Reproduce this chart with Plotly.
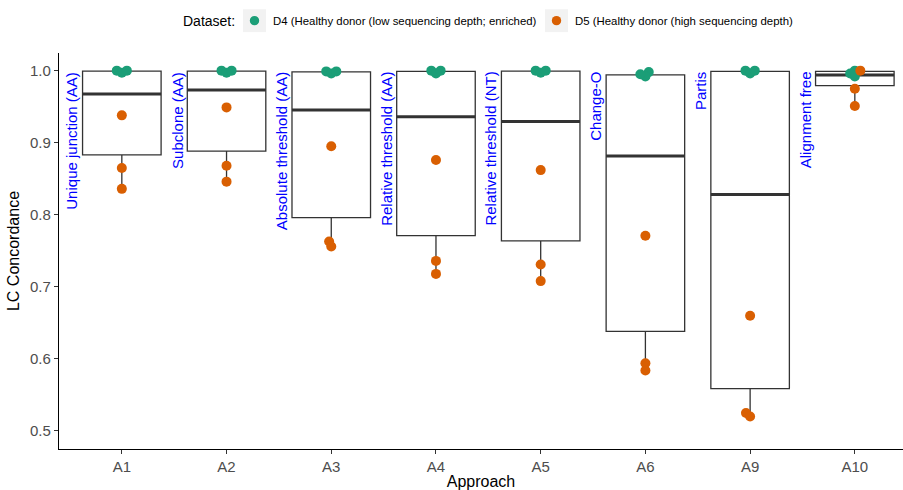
import numpy as np
import plotly.graph_objects as go

approaches = ["A1", "A2", "A3", "A4", "A5", "A6", "A9", "A10"]
method_labels = ["Unique junction (AA)", "Subclone (AA)", "Absolute threshold (AA)",
                 "Relative threshold (AA)", "Relative threshold (NT)", "Change-O",
                 "Partis", "Alignment free"]
d4_name = "D4 (Healthy donor (low sequencing depth; enriched)"
d5_name = "D5 (Healthy donor (high sequencing depth)"
d4_values = [
    [1.0, 0.997, 1.0],
    [1.0, 0.997, 1.0],
    [0.999, 0.996, 0.999],
    [1.0, 0.996, 1.0],
    [1.0, 0.997, 1.0],
    [0.998, 0.992, 0.995],
    [1.0, 0.996, 1.0],
    [1.0, 0.996, 0.992],
]
d5_values = [
    [0.938, 0.865, 0.836],
    [0.949, 0.868, 0.846],
    [0.895, 0.763, 0.756],
    [0.876, 0.736, 0.718],
    [0.862, 0.731, 0.708],
    [0.771, 0.594, 0.584],
    [0.660, 0.525, 0.520],
    [1.0, 0.975, 0.951],
]

GREEN = "#1B9E77"
ORANGE = "#D95F02"
FONT = "Liberation Sans, Arial, sans-serif"

W, H = 903, 490
ML, MR, MT, MB = 59, 0, 53, 39
XR = [-0.6, 7.46]
YR = [0.475, 1.0245]
PW, PH = W - ML - MR, H - MT - MB
px_x = PW / (XR[1] - XR[0])
px_y = PH / (YR[1] - YR[0])
BOXW = 0.75


def swarm(vals, d=5.5):
    vals = np.asarray(vals, dtype=float)
    order = np.argsort(vals, kind="stable")
    placed = []
    offs = np.zeros(len(vals))
    for idx in order:
        y = vals[idx] * px_y
        cands = [0.0]
        for (px, py) in placed:
            dy = abs(py - y)
            if dy < d:
                dx = np.sqrt(d * d - dy * dy)
                cands += [px + dx, px - dx]
        cands = sorted(cands, key=lambda c: (abs(c), c))
        for c in cands:
            ok = all((c - px) ** 2 + (y - py) ** 2 >= d * d - 1e-6 for (px, py) in placed)
            if ok:
                break
        placed.append((c, y))
        offs[idx] = c
    return offs


q1s, meds, q3s, lows, highs = [], [], [], [], []
pts = {"d4": ([], []), "d5": ([], [])}
for i in range(len(approaches)):
    allv = np.array(d4_values[i] + d5_values[i])
    q1, med, q3 = np.percentile(allv, [25, 50, 75])
    iqr = q3 - q1
    low = allv[allv >= q1 - 1.5 * iqr].min()
    high = allv[allv <= q3 + 1.5 * iqr].max()
    q1s.append(q1); meds.append(med); q3s.append(q3); lows.append(low); highs.append(high)
    offs = swarm(allv)
    n4 = len(d4_values[i])
    for k, v in enumerate(allv):
        key = "d4" if k < n4 else "d5"
        pts[key][0].append(i + offs[k] / px_x)
        pts[key][1].append(v)

xs = list(range(len(approaches)))
fig = go.Figure()
fig.add_trace(go.Box(
    x=xs, q1=q1s, median=meds, q3=q3s, lowerfence=lows, upperfence=highs,
    width=BOXW, whiskerwidth=0, fillcolor="white",
    line=dict(color="#333333", width=1.3), showlegend=False, hoverinfo="skip",
    boxpoints=False,
))
# thick median lines
mx, my = [], []
for i, m in enumerate(meds):
    mx += [i - BOXW / 2, i + BOXW / 2, None]
    my += [m, m, None]
fig.add_trace(go.Scatter(x=mx, y=my, mode="lines", line=dict(color="#333333", width=3),
                         showlegend=False, hoverinfo="skip"))

fig.add_trace(go.Scatter(x=pts["d4"][0], y=pts["d4"][1], mode="markers", name=d4_name,
                         marker=dict(color=GREEN, size=10), showlegend=False))
fig.add_trace(go.Scatter(x=pts["d5"][0], y=pts["d5"][1], mode="markers", name=d5_name,
                         marker=dict(color=ORANGE, size=10), showlegend=False))

for i, lab in enumerate(method_labels):
    fig.add_annotation(x=i - BOXW / 2, y=1.0, xref="x", yref="y", text=lab,
                       textangle=-90, xanchor="right", yanchor="top", showarrow=False,
                       font=dict(family=FONT, size=15, color="#0000FF"),
                       borderpad=0, xshift=-1)


# ---- manual legend (paper coordinates from pixel layout) ----
def fx(px):
    return (px - ML) / PW


def fy(py):
    return (H - MB - py) / PH


LEG_Y = 20.5
fig.add_annotation(x=fx(182), y=fy(LEG_Y), xref="paper", yref="paper", text="Dataset:",
                   xanchor="left", yanchor="middle", showarrow=False, borderpad=0,
                   font=dict(family=FONT, size=14, color="black"))
for key_left, color, name in [(243, GREEN, d4_name), (545, ORANGE, d5_name)]:
    fig.add_shape(type="rect", xref="paper", yref="paper",
                  x0=fx(key_left), x1=fx(key_left + 23), y0=fy(LEG_Y + 11.5), y1=fy(LEG_Y - 11.5),
                  fillcolor="#F2F2F2", line=dict(width=0), layer="above")
    cx = key_left + 11.5
    fig.add_shape(type="circle", xref="paper", yref="paper",
                  x0=fx(cx - 4.7), x1=fx(cx + 4.7), y0=fy(LEG_Y + 4.7), y1=fy(LEG_Y - 4.7),
                  fillcolor=color, line=dict(width=0), layer="above")
    fig.add_annotation(x=fx(key_left + 29), y=fy(LEG_Y), xref="paper", yref="paper", text=name,
                       xanchor="left", yanchor="middle", showarrow=False, borderpad=0,
                       font=dict(family=FONT, size=11.4, color="black"))

fig.update_layout(
    width=W, height=H,
    margin=dict(l=ML, r=MR, t=MT, b=MB),
    plot_bgcolor="white", paper_bgcolor="white",
    font=dict(family=FONT, color="black"),
    showlegend=False,
    xaxis=dict(range=XR, tickvals=xs, ticktext=approaches, showgrid=False, zeroline=False,
               showline=True, linecolor="black", linewidth=1.3, ticks="outside", ticklen=4,
               tickcolor="#333333", tickfont=dict(size=15, color="#4D4D4D", family=FONT),
               title=dict(text="Approach", font=dict(size=16, color="black", family=FONT), standoff=4)),
    yaxis=dict(range=YR, tickvals=[0.5, 0.6, 0.7, 0.8, 0.9, 1.0],
               ticktext=["0.5", "0.6", "0.7", "0.8", "0.9", "1.0"],
               showgrid=False, zeroline=False,
               showline=True, linecolor="black", linewidth=1.3, ticks="outside", ticklen=4,
               tickcolor="#333333", tickfont=dict(size=15, color="#4D4D4D", family=FONT),
               title=dict(text="LC Concordance", font=dict(size=16, color="black", family=FONT), standoff=6)),
)
fig.write_html("out.html")
